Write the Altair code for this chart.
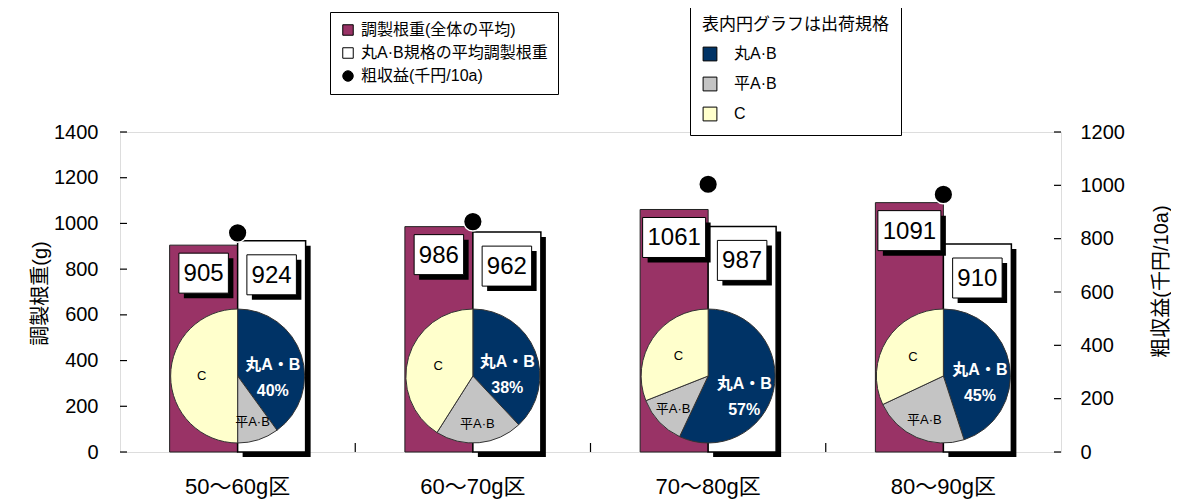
import altair as alt
import pandas as pd

# ---------------- data ----------------
categories = ["50～60g区", "60～70g区", "70～80g区", "80～90g区"]
series_names = ["調製根重(全体の平均)", "丸A·B規格の平均調製根重", "粗収益(千円/10a)"]
weight_all = [905, 986, 1061, 1091]          # 調製根重(全体の平均) g
weight_round = [924, 962, 987, 910]          # 丸A·B規格の平均調製根重 g
revenue = [822, 864, 1004, 966]              # 粗収益 千円/10a
grades = ["丸A·B", "平A·B", "C"]
grade_round = [40, 38, 57, 45]               # %
grade_flat = [10, 21, 12, 23]                # %
grade_c = [50, 41, 31, 32]                   # %
left_ticks = [0, 200, 400, 600, 800, 1000, 1200, 1400]
right_ticks = [0, 200, 400, 600, 800, 1000, 1200]

PURPLE = "#993366"
NAVY = "#003366"
DOTS = "#c4c4c4"
CREAM = "#ffffcc"
FONT = "Arial, 'Liberation Sans', 'Noto Sans CJK JP', sans-serif"

df_all = pd.DataFrame({"group": categories, "series": series_names[0], "value": weight_all})
df_round = pd.DataFrame({"group": categories, "series": series_names[1], "value": weight_round})
df_rev = pd.DataFrame({"group": categories, "series": series_names[2], "rev": revenue})
rows = []
for i, g in enumerate(categories):
    for k, (gr, vals) in enumerate(zip(grades, [grade_round, grade_flat, grade_c])):
        rows.append({"group": g, "grade": gr, "pct": vals[i], "k": k})
df_pie = pd.DataFrame(rows)
df_lt = pd.DataFrame({"t": left_ticks})
df_rt = pd.DataFrame({"t": right_ticks})
df_bt = pd.DataFrame({"group": categories[1:]})

# ---------------- scales / axes ----------------
x_scale = alt.Scale(domain=categories, paddingInner=0, paddingOuter=0)
x_axis = alt.Axis(title=None, labelAngle=0, labelFontSize=22, labelPadding=24, ticks=False,
                  tickSize=0, domain=False, grid=False, labelFont=FONT, labelColor="black")
left_scale = alt.Scale(domain=[0, 1400], nice=False)
left_axis = alt.Axis(title="調製根重(g)", values=left_ticks, format="d", ticks=False, tickSize=0,
                     domain=False, grid=False, labelFontSize=20, labelPadding=22, labelFont=FONT,
                     labelColor="black", titleFont=FONT, titleFontSize=20, titleFontWeight="normal",
                     titleColor="black", titleX=-80, titleY=161, titleAngle=270, titleAlign="center",
                     titleBaseline="middle")
right_scale = alt.Scale(domain=[0, 1200], nice=False)
right_axis = alt.Axis(title="粗収益(千円/10a)", orient="right", values=right_ticks, format="d",
                      ticks=False, tickSize=0, domain=False, grid=False, labelFontSize=20,
                      labelPadding=19, labelFont=FONT, labelColor="black", titleFont=FONT,
                      titleFontSize=20, titleFontWeight="normal", titleColor="black", titleX=100,
                      titleY=149, titleAngle=270, titleAlign="center", titleBaseline="middle")
theta_scale = alt.Scale(domain=[0, 100], range=[0, 6.283185307179586])

legend1 = alt.Legend(title=None, orient="none", legendX=210, legendY=-120, direction="vertical",
                     strokeColor="black", fillColor="white", padding=10, labelFontSize=16,
                     labelFont=FONT, labelColor="black", symbolSize=110, symbolStrokeColor="black",
                     symbolStrokeWidth=1, labelOffset=5, rowPadding=7, labelLimit=400)
legend2 = alt.Legend(title="表内円グラフは出荷規格", orient="none", legendX=570, legendY=-127,
                     direction="vertical", strokeColor="black", fillColor="white", padding=12,
                     titleFontSize=17, titleFont=FONT, titleFontWeight="normal", titleColor="black",
                     titlePadding=12, titleLimit=400, labelFontSize=16, labelFont=FONT,
                     labelColor="black", symbolSize=190, symbolType="square",
                     symbolStrokeColor="black", symbolStrokeWidth=1, labelOffset=16, rowPadding=12)

color_scale = alt.Scale(domain=series_names, range=[PURPLE, "white", "black"])
shape_scale = alt.Scale(domain=series_names, range=["square", "square", "circle"])

X = alt.X("group:N", sort=categories, scale=x_scale, axis=x_axis)
Y = alt.Y("value:Q", scale=left_scale, axis=left_axis)
COLOR = alt.Color("series:N", scale=color_scale, legend=legend1)
SHAPE = alt.Shape("series:N", scale=shape_scale, legend=legend1)

OFF = 34
BW = "length(toString(datum.value)) * 13.5 + 9"

# ---------------- left-axis layers ----------------
shadow_round = alt.Chart(df_round).mark_bar(color="black", width=68, xOffset=OFF + 5, yOffset=5).encode(x=X, y=Y)
bar_all = alt.Chart(df_all).mark_bar(width=68, xOffset=-OFF, stroke="#222", strokeWidth=1).encode(x=X, y=Y, color=COLOR)
bar_round = alt.Chart(df_round).mark_bar(width=68, xOffset=OFF, stroke="black", strokeWidth=1.5).encode(x=X, y=Y, color=COLOR)


def value_box(df, dx, off):
    base = alt.Chart(df).transform_calculate(bw=BW)
    sh = base.mark_bar(color="black", xOffset=dx + 5, yOffset=off + 5, y2Offset=off + 45).encode(
        x=X, y=Y, y2=alt.Y2("value"), size=alt.Size("bw:Q", scale=None, legend=None))
    bx = base.mark_bar(color="white", stroke="black", strokeWidth=1, xOffset=dx, yOffset=off,
                       y2Offset=off + 40).encode(
        x=X, y=Y, y2=alt.Y2("value"), size=alt.Size("bw:Q", scale=None, legend=None))
    tx = base.mark_text(dx=dx, dy=off + 21, baseline="middle", align="center", fontSize=24,
                        font=FONT, color="black").encode(x=X, y=Y, text=alt.Text("value:Q"))
    return sh + bx + tx


boxes_all = value_box(df_all, -OFF, 8)
boxes_round = value_box(df_round, OFF, 14)

pie_base = alt.Chart(df_pie).transform_window(
    end="sum(pct)", groupby=["group"], sort=[alt.SortField("k")]
).transform_calculate(start="datum.end - datum.pct", mid="datum.end - datum.pct / 2")

PX = alt.X("group:N", sort=categories, scale=x_scale, axis=x_axis, bandPosition=0.5)
pies = pie_base.mark_arc(outerRadius=67, innerRadius=0, stroke="#333", strokeWidth=1).encode(
    x=PX,
    y=alt.value(244),
    theta=alt.Theta("start:Q", scale=theta_scale, stack=False),
    theta2="end:Q",
    fill=alt.Fill("grade:N", scale=alt.Scale(domain=grades, range=[NAVY, DOTS, CREAM]), legend=legend2),
)

lab_round = pie_base.transform_filter(alt.datum.k == 0).transform_calculate(
    lab="'丸A・B\\n' + datum.pct + '%'"
).mark_text(radius=37, fontSize=16, fontWeight="bold", color="white", font=FONT,
            lineBreak="\n", lineHeight=26, align="center", baseline="middle").encode(
    x=PX, y=alt.value(244), theta=alt.Theta("mid:Q", scale=theta_scale, stack=False), text="lab:N")
lab_flat = pie_base.transform_filter(alt.datum.k == 1).mark_text(
    radius=48, fontSize=13, color="black", font=FONT, align="center", baseline="middle").encode(
    x=PX, y=alt.value(244), theta=alt.Theta("mid:Q", scale=theta_scale, stack=False), text="grade:N")
lab_c = pie_base.transform_filter(alt.datum.k == 2).mark_text(
    radius=36, fontSize=13, color="black", font=FONT, align="center", baseline="middle").encode(
    x=PX, y=alt.value(244), theta=alt.Theta("mid:Q", scale=theta_scale, stack=False), text="grade:N")

lticks = alt.Chart(df_lt).mark_rule(color="black", strokeWidth=1.2).encode(
    y=alt.Y("t:Q", scale=left_scale, axis=left_axis), x=alt.value(0), x2=alt.value(7))
bticks = alt.Chart(df_bt).mark_rule(color="black", strokeWidth=1.2).encode(
    x=alt.X("group:N", sort=categories, scale=x_scale, axis=x_axis, bandPosition=0),
    y=alt.value(311), y2=alt.value(320))

left_layers = alt.layer(shadow_round, bar_all, bar_round, boxes_all, boxes_round,
                        pies, lab_round, lab_flat, lab_c, lticks, bticks)

# ---------------- right-axis layers ----------------
rticks = alt.Chart(df_rt).mark_rule(color="black", strokeWidth=1.2).encode(
    y=alt.Y("t:Q", scale=right_scale, axis=right_axis), x=alt.value(934), x2=alt.value(941))
dots = alt.Chart(df_rev).mark_point(filled=True, size=350, stroke="white", strokeWidth=1.5, opacity=1).encode(
    x=alt.X("group:N", sort=categories, scale=x_scale, axis=x_axis),
    y=alt.Y("rev:Q", scale=right_scale, axis=right_axis),
    color=COLOR, shape=SHAPE)
right_layers = alt.layer(rticks, dots)

chart = alt.layer(left_layers, right_layers).resolve_scale(
    y="independent", fill="independent"
).properties(
    width=941, height=320,
    autosize=alt.AutoSizeParams(type="none"),
    padding={"left": 112, "top": 124, "right": 110, "bottom": 60},
).configure_view(stroke="black", strokeWidth=2.5).configure(background="white")

chart.save("out.html", embed_options={"renderer": "svg", "actions": False})
